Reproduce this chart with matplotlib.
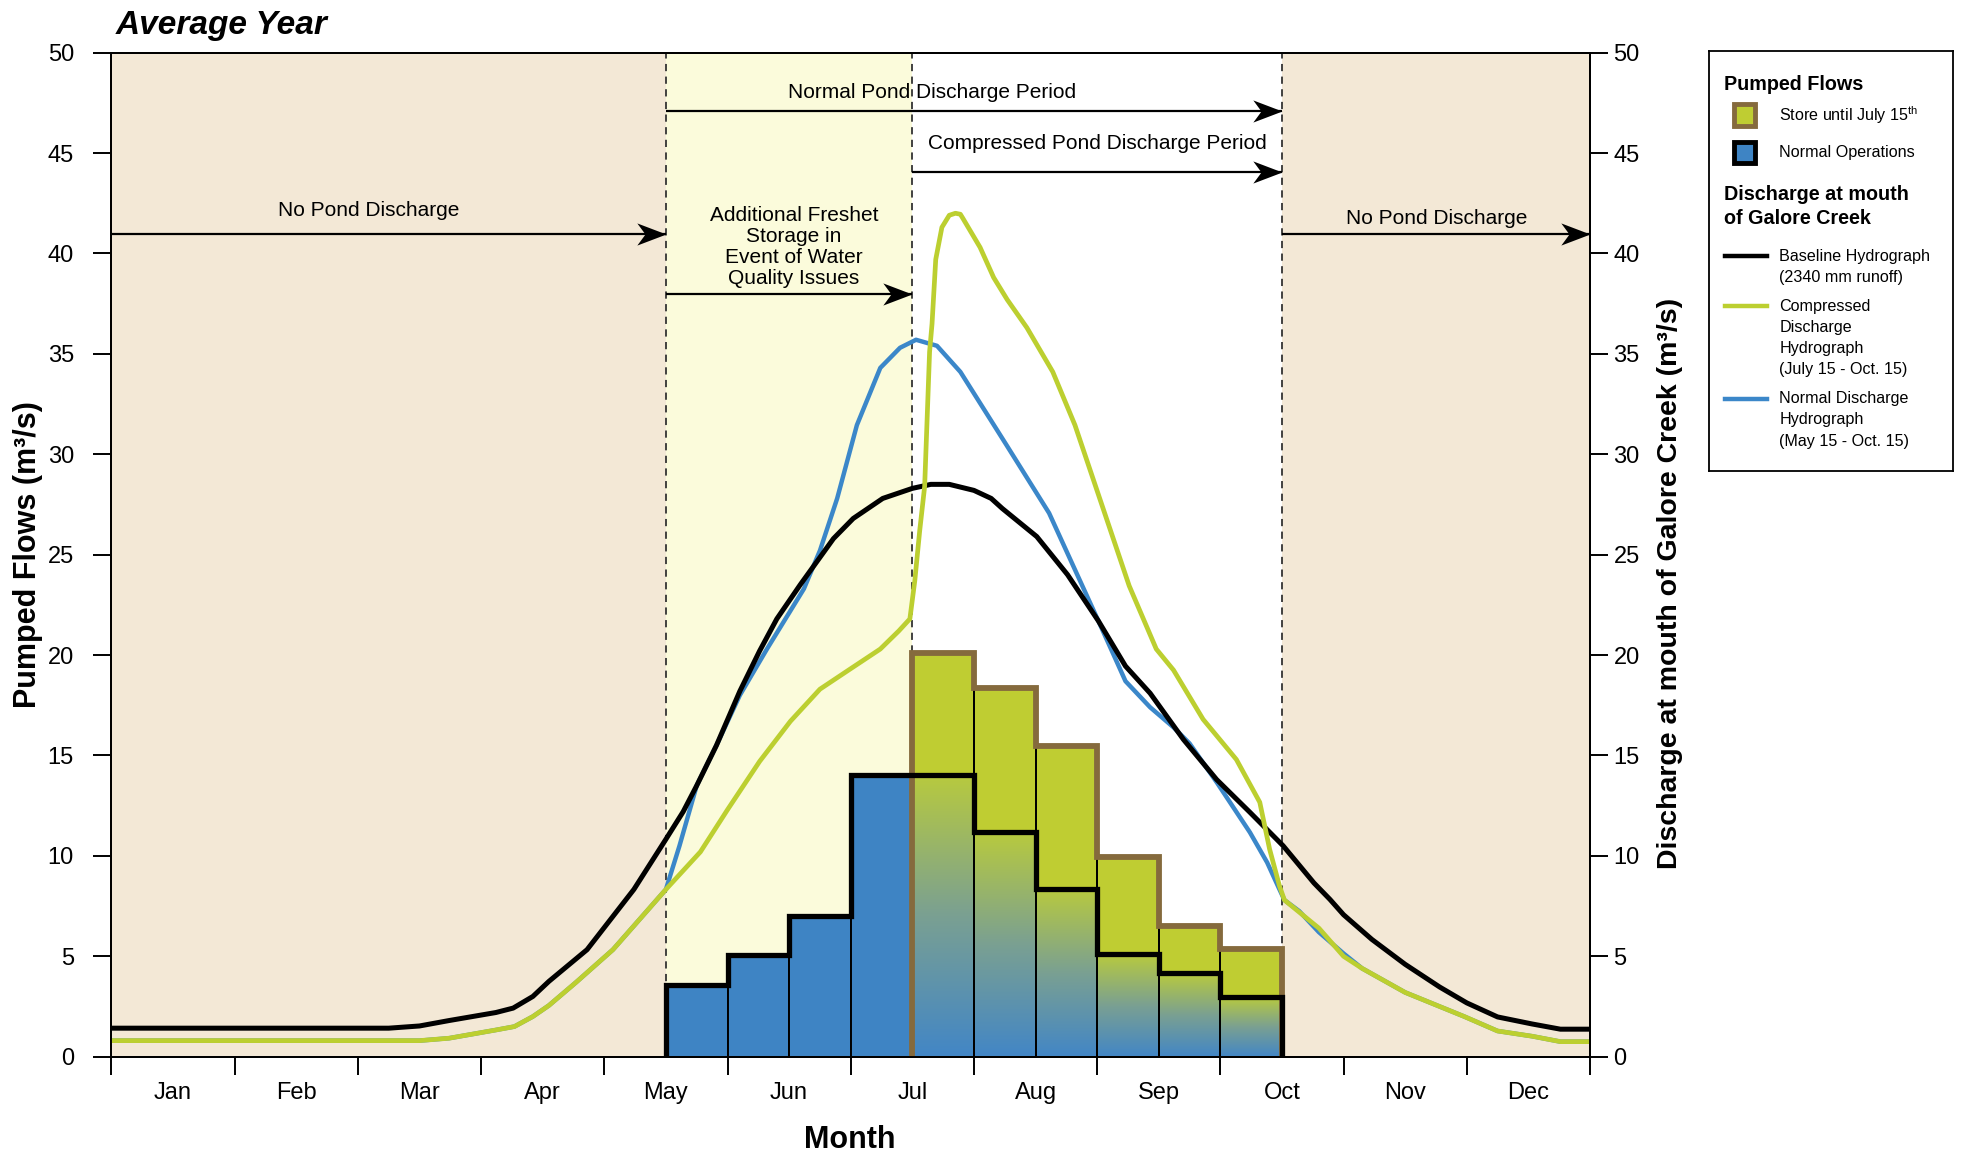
import numpy as np
import matplotlib
matplotlib.use("Agg")
import matplotlib.pyplot as plt
from matplotlib.colors import LinearSegmentedColormap
from matplotlib.patches import Rectangle
from matplotlib.lines import Line2D
from matplotlib.path import Path

plt.rcParams['font.family'] = ['Liberation Sans', 'DejaVu Sans']
plt.rcParams['mathtext.fontset'] = 'custom'
plt.rcParams['mathtext.rm'] = 'Liberation Sans'
plt.rcParams['mathtext.it'] = 'Liberation Sans:italic'
plt.rcParams['mathtext.bf'] = 'Liberation Sans:bold'

# ---------------- data ----------------
months = ["Jan", "Feb", "Mar", "Apr", "May", "Jun", "Jul", "Aug", "Sep", "Oct", "Nov", "Dec"]

# Baseline hydrograph (x in months from Jan 1)
base_x = [0, 1, 2, 2.25, 2.5, 2.74, 3.12, 3.26, 3.42, 3.55, 3.86, 4.24, 4.5, 4.64, 4.75, 4.91,
          5.1, 5.26, 5.4, 5.59, 5.86, 6.02, 6.26, 6.5, 6.65, 6.8, 7.0, 7.14, 7.23, 7.51, 7.76,
          8.01, 8.23, 8.43, 8.7, 8.97, 9.24, 9.51, 9.76, 9.89, 10.0, 10.23, 10.5, 10.78, 11.0,
          11.25, 11.53, 11.76, 12]
base_y = [1.42, 1.42, 1.42, 1.42, 1.53, 1.8, 2.2, 2.42, 3.0, 3.75, 5.33, 8.33, 10.83, 12.2, 13.5, 15.5,
          18.2, 20.2, 21.8, 23.5, 25.8, 26.8, 27.8, 28.3, 28.5, 28.5, 28.2, 27.8, 27.3, 25.9, 24.0,
          21.7, 19.45, 18.1, 15.8, 13.8, 12.17, 10.5, 8.65, 7.83, 7.07, 5.84, 4.6, 3.47, 2.68,
          1.98, 1.63, 1.37, 1.37]

# Normal discharge hydrograph (May 15 - Oct 15)
norm_x = [0, 1, 2, 2.5, 2.74, 3.12, 3.27, 3.42, 3.55, 3.77, 4.07, 4.5, 4.61, 4.75, 4.91, 5.1, 5.32,
          5.62, 5.75, 5.89, 6.05, 6.24, 6.4, 6.53, 6.7, 6.89, 7.26, 7.61, 8.01, 8.23, 8.43, 8.62,
          8.75, 8.97, 9.24, 9.38, 9.48, 9.52, 9.64, 9.8, 10.0, 10.15, 10.5, 10.98, 11.25, 11.53,
          11.76, 12]
norm_y = [0.8, 0.8, 0.8, 0.8, 0.92, 1.33, 1.5, 2.0, 2.55, 3.7, 5.33, 8.33, 10.5, 13.5, 15.5, 18.0, 20.3,
          23.3, 25.2, 27.8, 31.45, 34.3, 35.3, 35.7, 35.4, 34.1, 30.5, 27.07, 21.7, 18.7, 17.4, 16.4,
          15.6, 13.67, 11.17, 9.67, 8.33, 7.8, 7.25, 6.2, 5.14, 4.4, 3.2, 2.0, 1.28, 1.02,
          0.75, 0.75]

# Compressed discharge hydrograph (Jul 15 - Oct 15)
comp_x = [0, 1, 2, 2.5, 2.74, 3.12, 3.27, 3.42, 3.55, 3.77, 4.07, 4.5, 4.78, 5.0, 5.26, 5.51, 5.75,
          5.97, 6.24, 6.39, 6.48, 6.52, 6.56, 6.6, 6.64, 6.66, 6.69, 6.74, 6.8, 6.85, 6.89, 6.91,
          7.05, 7.16, 7.27, 7.43, 7.64, 7.82, 8.04, 8.26, 8.48, 8.62, 8.86, 9.13, 9.32, 9.4, 9.48,
          9.52, 9.8, 10.0, 10.15, 10.5, 10.98, 11.25, 11.53, 11.76, 12]
comp_y = [0.8, 0.8, 0.8, 0.8, 0.92, 1.33, 1.5, 2.0, 2.55, 3.7, 5.33, 8.33, 10.2, 12.3, 14.7, 16.7, 18.3,
          19.2, 20.3, 21.2, 21.8, 23.7, 26.2, 28.4, 35.1, 36.5, 39.7, 41.3, 41.9, 42.0, 41.95, 41.75,
          40.3, 38.8, 37.7, 36.3, 34.1, 31.45, 27.45, 23.45, 20.3, 19.25, 16.8, 14.8, 12.67, 10.33, 8.5,
          7.8, 6.4, 5.0, 4.4, 3.2, 2.0, 1.28, 1.02, 0.75, 0.75]

# Pumped flows, half-month bins from May 15 to Oct 15
bin_edges = [4.5, 5.0, 5.5, 6.0, 6.5, 7.0, 7.5, 8.0, 8.5, 9.0, 9.5]
normal_ops = [3.55, 5.08, 7.0, 14.05, 14.05, 11.17, 8.37, 5.12, 4.17, 2.95]
store_edges = [6.5, 7.0, 7.5, 8.0, 8.5, 9.0, 9.5]
store_vals = [20.08, 18.38, 15.45, 9.95, 6.53, 5.38]

# ---------------- styles ----------------
BEIGE = "#f3e8d6"
LYELLOW = "#fbfbdb"
GREEN = "#bfcd32"
BROWN = "#856a3d"
BLUE = "#3e84c4"
LBLUE = "#3b87c9"
LGREEN = "#bccf30"

fig = plt.figure(figsize=(19.65, 11.54), dpi=100)
ax = fig.add_axes([0.05674, 0.08432, 0.7524, 0.8701])

ax.axvspan(0, 4.5, color=BEIGE, zorder=0, lw=0)
ax.axvspan(4.5, 6.5, color=LYELLOW, zorder=0, lw=0)
ax.axvspan(9.5, 12, color=BEIGE, zorder=0, lw=0)
for xv in (4.5, 6.5, 9.5):
    ax.axvline(xv, color="#333333", lw=1.3, ls=(0, (4, 3)), zorder=1)

# bars
n_early = 4
ax.bar(bin_edges[:n_early], normal_ops[:n_early], width=0.5, align="edge",
       color=BLUE, edgecolor="black", lw=1.4, zorder=2)
ax.bar(store_edges[:-1], store_vals, width=0.5, align="edge", color=GREEN, lw=0, zorder=2)

cmap = LinearSegmentedColormap.from_list("g", [(66 / 255, 134 / 255, 198 / 255),
                                               (122 / 255, 160 / 255, 146 / 255),
                                               (184 / 255, 202 / 255, 62 / 255)])
grad = np.linspace(0, 1, 256).reshape(-1, 1)
for i, x0 in enumerate(store_edges[:-1]):
    h = normal_ops[n_early + i]
    ax.imshow(grad, extent=[x0, x0 + 0.5, 0, h], origin="lower", cmap=cmap,
              aspect="auto", zorder=2.1, interpolation="bilinear")
ax.bar(store_edges[:-1], store_vals, width=0.5, align="edge", fill=False,
       edgecolor="black", lw=1.4, zorder=2.2)

ax.stairs(store_vals, store_edges, baseline=0, color=BROWN, lw=4.2, zorder=3)
ax.stairs(normal_ops, bin_edges, baseline=0, color="black", lw=3.8, zorder=3.1)

# hydrographs
ax.plot(norm_x, norm_y, color=LBLUE, lw=3.2, zorder=4, solid_joinstyle="round")
ax.plot(base_x, base_y, color="black", lw=3.6, zorder=4.1, solid_joinstyle="round")
ax.plot(comp_x, comp_y, color=LGREEN, lw=3.4, zorder=4.2, solid_joinstyle="round")

ax.set_xlim(0, 12)
ax.set_ylim(0, 50)

# annotations with stealth arrowheads
stealth = Path([(0, 0), (-1, 0.38), (-0.72, 0), (-1, -0.38), (0, 0)],
               [Path.MOVETO, Path.LINETO, Path.LINETO, Path.LINETO, Path.CLOSEPOLY])

def harrow(x0, x1, y):
    ax.plot([x0, x1], [y, y], color="black", lw=1.6, zorder=5, solid_capstyle="butt")
    ax.plot([x1], [y], marker=stealth, markersize=42, color="black", mec="none", zorder=5.1)

tfs = 15
harrow(0, 4.5, 40.98)
ax.text(2.09, 42.15, "No Pond Discharge", ha="center", va="center", fontsize=tfs, zorder=5)
harrow(4.5, 9.5, 47.07)
ax.text(6.66, 48.0, "Normal Pond Discharge Period", ha="center", va="center", fontsize=tfs, zorder=5)
harrow(6.5, 9.5, 44.03)
ax.text(8.0, 45.47, "Compressed Pond Discharge Period", ha="center", va="center", fontsize=tfs, zorder=5)
harrow(4.5, 6.5, 37.97)
for yy, s in zip([41.89, 40.84, 39.8, 38.75],
                 ["Additional Freshet", "Storage in", "Event of Water", "Quality Issues"]):
    ax.text(5.54, yy, s, ha="center", va="center", fontsize=tfs, zorder=5)
harrow(9.5, 12, 40.98)
ax.text(10.76, 41.75, "No Pond Discharge", ha="center", va="center", fontsize=tfs, zorder=5)

# axes styling
ax.set_xticks(np.arange(0, 13))
ax.set_xticklabels([])
ax.set_xticks(np.arange(0.5, 12), minor=True)
ax.set_xticklabels(months, minor=True)
ax.tick_params(axis="x", which="minor", length=0, pad=18, labelsize=17)
ax.tick_params(axis="x", which="major", length=13, width=1.4, direction="out")
ax.set_yticks(np.arange(0, 51, 5))
ax.tick_params(axis="y", length=13, width=1.4, direction="out", labelsize=17, pad=14)
for sp in ax.spines.values():
    sp.set_linewidth(1.4)

ax2 = ax.twinx()
ax2.set_ylim(0, 50)
ax2.set_yticks(np.arange(0, 51, 5))
ax2.tick_params(axis="y", length=13, width=1.4, direction="out", labelsize=17, pad=4)
for sp in ax2.spines.values():
    sp.set_linewidth(1.4)

fig.text(849.7 / 1965, 1 - 1140 / 1154, "Month", ha="center", va="center",
         fontsize=22, fontweight="bold")
fig.text(28 / 1965, 1 - 555 / 1154, "Pumped Flows (m³/s)", rotation=90, ha="center", va="center",
         fontsize=22, fontweight="bold")
fig.text(1670 / 1965, 1 - 583 / 1154, "Discharge at mouth of Galore Creek (m³/s)", rotation=90,
         ha="center", va="center", fontsize=20.5, fontweight="bold")
fig.text(116 / 1965, 1 - 34 / 1154, "Average Year", ha="left", va="baseline",
         fontsize=24, fontweight="bold", fontstyle="italic")

# legend box
lg = fig.add_axes([1709 / 1965, 1 - 471 / 1154, 244 / 1965, 420 / 1154])
lg.set_xlim(0, 244)
lg.set_ylim(420, 0)
lg.set_xticks([])
lg.set_yticks([])
for sp in lg.spines.values():
    sp.set_linewidth(1.3)
lfs = 11.6
lg.text(15, 34, "Pumped Flows", fontsize=14.2, fontweight="bold", va="center", ha="left")
lg.add_patch(Rectangle((25.5, 53), 21, 21.5, facecolor=GREEN, edgecolor=BROWN, lw=3.5))
lg.text(70.5, 64, r"Store until July 15$^{\mathrm{th}}$", fontsize=lfs, va="center", ha="left")
lg.add_patch(Rectangle((25.5, 90.5), 21, 21.5, facecolor=BLUE, edgecolor="black", lw=3.5))
lg.text(70.5, 102, "Normal Operations", fontsize=lfs, va="center", ha="left")
lg.text(15, 144, "Discharge at mouth", fontsize=14.2, fontweight="bold", va="center", ha="left")
lg.text(15, 168, "of Galore Creek", fontsize=14.2, fontweight="bold", va="center", ha="left")
for y0, col, lines in [(205, "black", ["Baseline Hydrograph", "(2340 mm runoff)"]),
                       (255, LGREEN, ["Compressed", "Discharge", "Hydrograph", "(July 15 - Oct. 15)"]),
                       (347.5, LBLUE, ["Normal Discharge", "Hydrograph", "(May 15 - Oct. 15)"])]:
    lg.add_line(Line2D([16, 58], [y0, y0], color=col, lw=3.2))
    for k, s in enumerate(lines):
        lg.text(70.5, y0 + k * 21.3, s, fontsize=lfs, va="center", ha="left")

fig.savefig("out.png", dpi=100)
